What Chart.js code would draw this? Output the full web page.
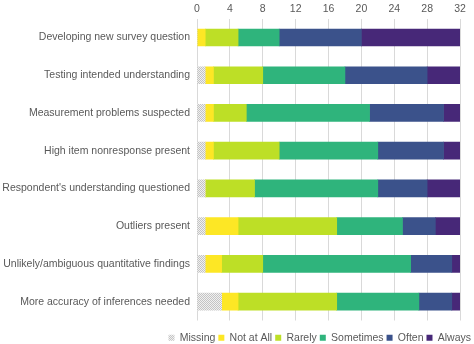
<!DOCTYPE html>
<html>
<head>
<meta charset="utf-8">
<script src="https://cdn.jsdelivr.net/npm/chart.js@4/dist/chart.umd.min.js"></script>
<style>
  html, body { margin: 0; padding: 0; background: #fff; }
  #wrap { width: 474px; height: 344px; }
</style>
</head>
<body>
<div id="wrap"><canvas id="chart"></canvas></div>
<script>
  const categories = [
    "Developing new survey question",
    "Testing intended understanding",
    "Measurement problems suspected",
    "High item nonresponse present",
    "Respondent's understanding questioned",
    "Outliers present",
    "Unlikely/ambiguous quantitative findings",
    "More accuracy of inferences needed"
  ];
  const missing   = [0, 1, 1, 1, 1, 1, 1, 3];
  const notAtAll  = [1, 1, 1, 1, 0, 4, 2, 2];
  const rarely    = [4, 6, 4, 8, 6, 12, 5, 12];
  const sometimes = [5, 10, 15, 12, 15, 8, 18, 10];
  const often     = [10, 10, 9, 8, 6, 4, 5, 4];
  const always    = [12, 4, 2, 2, 4, 3, 1, 1];
  const xTicks = [0, 4, 8, 12, 16, 20, 24, 28, 32];

  // dotted grey fill for "Missing"
  const pc = document.createElement("canvas");
  pc.width = 2; pc.height = 2;
  const pctx = pc.getContext("2d");
  pctx.fillStyle = "#f0f0f0";
  pctx.fillRect(0, 0, 2, 2);
  pctx.fillStyle = "#c4c4c4";
  pctx.fillRect(0, 0, 1, 1);
  pctx.fillRect(1, 1, 1, 1);
  const ctx = document.getElementById("chart").getContext("2d");
  const dots = ctx.createPattern(pc, "repeat");

  const data = {
    labels: categories,
    datasets: [
      { label: "Missing", data: missing, backgroundColor: dots },
      { label: "Not at All", data: notAtAll, backgroundColor: "#fde725" },
      { label: "Rarely", data: rarely, backgroundColor: "#bddf26" },
      { label: "Sometimes", data: sometimes, backgroundColor: "#2fb47c" },
      { label: "Often", data: often, backgroundColor: "#3b528b" },
      { label: "Always", data: always, backgroundColor: "#472878" }
    ]
  };

  Chart.defaults.font.family = "'Liberation Sans', Arial, sans-serif";
  Chart.defaults.font.size = 10.5;
  Chart.defaults.color = "#595959";

  // push the legend text down toward the bottom edge
  const legendShift = {
    id: "legendShift",
    beforeLayout(chart) {
      const lg = chart.legend;
      if (!lg || lg._shifted) return;
      const draw = lg.draw;
      lg.draw = function () {
        const c = this.ctx;
        c.save();
        c.translate(0, 9);
        draw.call(this);
        c.restore();
      };
      lg._shifted = true;
    }
  };

  new Chart(ctx, {
    type: "bar",
    data: data,
    plugins: [legendShift],
    options: {
      indexAxis: "y",
      responsive: true,
      maintainAspectRatio: false,
      animation: false,
      layout: { padding: 0 },
      datasets: { bar: { barThickness: 17, borderWidth: 0 } },
      scales: {
        x: {
          position: "top",
          stacked: true,
          min: 0,
          max: 32,
          afterBuildTicks: (axis) => { axis.ticks = xTicks.map(v => ({ value: v })); },
          afterFit: (axis) => { axis.paddingRight = 14; },
          grid: { color: "#d9d9d9", drawTicks: false },
          border: { display: false },
          ticks: { padding: 3 }
        },
        y: {
          stacked: true,
          afterFit: (axis) => { axis.width = 197; },
          grid: { display: false, drawTicks: false },
          border: { display: false },
          ticks: { padding: 7 }
        }
      },
      plugins: {
        legend: {
          position: "bottom",
          align: "end",
          labels: { boxWidth: 6, boxHeight: 6, padding: 3, color: "#595959" }
        },
        tooltip: { enabled: false }
      }
    }
  });
</script>
</body>
</html>
